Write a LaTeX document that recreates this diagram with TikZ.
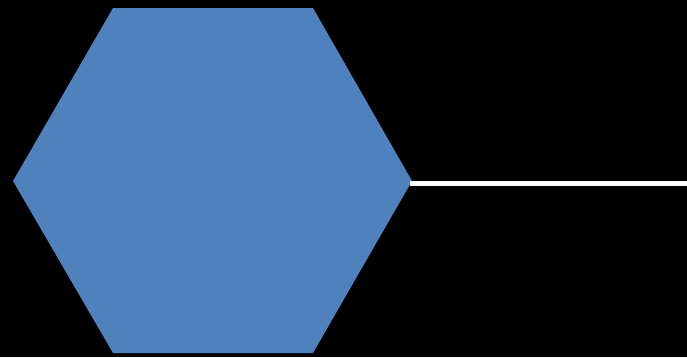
\documentclass[tikz,border=0pt]{standalone}
\definecolor{hexblue}{HTML}{4F81BD}
\begin{document}
\begin{tikzpicture}[x=1pt,y=-1pt,
  hexfill/.style={fill=hexblue,draw=none},
  wline/.style={draw=white,line width=5pt}]
\fill[black] (0,0) rectangle (687,357);
\useasboundingbox (0,0) rectangle (687,357);
\coordinate (h1) at (113,8);
\coordinate (h2) at (313,8);
\coordinate (h3) at (412,181);
\coordinate (h4) at (313,353);
\coordinate (h5) at (113,353);
\coordinate (h6) at (13,181);
\path[hexfill] (h1) -- (h2) -- (h3) -- (h4) -- (h5) -- (h6) -- cycle;
\coordinate (ls) at (410,183.5);
\coordinate (le) at (687,183.5);
\draw[wline] (ls) -- (le);
\end{tikzpicture}
\end{document}
